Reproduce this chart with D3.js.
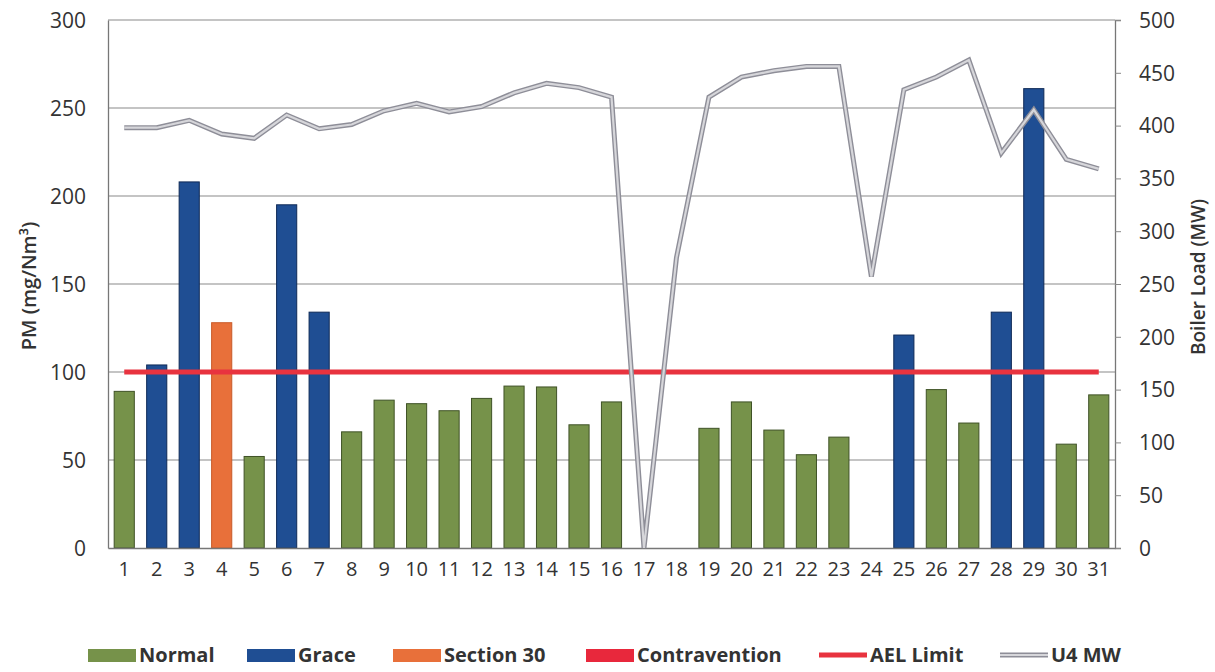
<!DOCTYPE html>
<html>
<head>
<meta charset="utf-8">
<script src="https://cdnjs.cloudflare.com/ajax/libs/d3/7.8.5/d3.min.js"></script>
<style>
  html, body { margin: 0; padding: 0; background: #fff; }
  svg text { font-family: "Open Sans", "DejaVu Sans", sans-serif; fill: #333; }
</style>
</head>
<body>
<svg id="chart" width="1215" height="672"></svg>
<script>
// ---- data ----
const days = d3.range(1, 32).map(String);
const pm = [89, 104, 208, 128, 52, 195, 134, 66, 84, 82, 78, 85, 92, 91.5, 70, 83,
            null, null, 68, 83, 67, 53, 63, null, 121, 90, 71, 134, 261, 59, 87];
const status = ["Normal","Grace","Grace","Section 30","Normal","Grace","Grace","Normal","Normal","Normal",
                "Normal","Normal","Normal","Normal","Normal","Normal","Normal","Normal","Normal","Normal",
                "Normal","Normal","Normal","Normal","Grace","Normal","Normal","Grace","Grace","Normal","Normal"];
const u4mw = [398, 398, 405, 392, 388, 410, 397, 401, 414, 421, 413, 418, 431, 440, 436, 427,
              0, 275, 427, 446, 452, 456, 456, 257, 434, 446, 462, 374, 415, 368, 359];
const aelLimit = 100;
const leftTicks = [0, 50, 100, 150, 200, 250, 300];
const rightTicks = [0, 50, 100, 150, 200, 250, 300, 350, 400, 450, 500];
const legendItems = ["Normal", "Grace", "Section 30", "Contravention", "AEL Limit", "U4 MW"];

// ---- styles ----
const colors = {
  "Normal": "#76924a",
  "Grace": "#1f4e93",
  "Section 30": "#e8703a",
  "Contravention": "#e8283c",
  "AEL Limit": "#e8333f",
  "U4 MW": "#b9b9bf"
};
const strokes = {
  "Normal": "#3f5226",
  "Grace": "#0f2a57",
  "Section 30": "#c85a28",
  "Contravention": "#c01e2e"
};

const svg = d3.select("#chart");
const L = 108, R = 1115, T = 20, B = 548;

const x = d3.scaleBand().domain(days).range([L, R]).paddingInner(0.38).paddingOuter(0.19);
const yL = d3.scaleLinear().domain([0, 300]).range([B, T]);
const yR = d3.scaleLinear().domain([0, 500]).range([B, T]);

// gridlines
svg.append("g").selectAll("line").data(leftTicks.filter(d => d > 0)).join("line")
  .attr("x1", L).attr("x2", R)
  .attr("y1", d => yL(d)).attr("y2", d => yL(d))
  .attr("stroke", "#8a8a8a").attr("stroke-width", 1.2);

// left axis
const gL = svg.append("g").attr("transform", `translate(${L},0)`)
  .call(d3.axisLeft(yL).tickValues(leftTicks).tickSize(0).tickPadding(22));
gL.select(".domain").attr("stroke", "#777").attr("stroke-width", 1.3);
gL.selectAll("text").style("font-size", "21px").attr("fill", "#333").attr("dy", "0.35em");

// right axis
const gR = svg.append("g").attr("transform", `translate(${R},0)`)
  .call(d3.axisRight(yR).tickValues(rightTicks).tickSize(6).tickPadding(18));
gR.select(".domain").attr("stroke", "#777").attr("stroke-width", 1.3);
gR.selectAll(".tick line").attr("stroke", "#888");
gR.selectAll("text").style("font-size", "21px").attr("fill", "#333").attr("dy", "0.35em");

// bars
svg.append("g").selectAll("rect")
  .data(days.map((d, i) => ({ day: d, v: pm[i], s: status[i] })).filter(d => d.v != null))
  .join("rect")
  .attr("x", d => x(d.day))
  .attr("width", x.bandwidth())
  .attr("y", d => yL(d.v))
  .attr("height", d => yL(0) - yL(d.v))
  .attr("fill", d => colors[d.s])
  .attr("stroke", d => strokes[d.s])
  .attr("stroke-width", 1);

// bottom axis
const gB = svg.append("g").attr("transform", `translate(0,${B})`)
  .call(d3.axisBottom(x).tickSize(0).tickPadding(14));
gB.select(".domain").attr("stroke", "#777").attr("stroke-width", 1.3);
gB.selectAll("text").style("font-size", "20px").attr("fill", "#333");

// AEL limit line
svg.append("line")
  .attr("x1", x(days[0]) + x.bandwidth() / 2)
  .attr("x2", x(days[days.length - 1]) + x.bandwidth() / 2)
  .attr("y1", yL(aelLimit)).attr("y2", yL(aelLimit))
  .attr("stroke", colors["AEL Limit"]).attr("stroke-width", 5);

// U4 MW line (double-stroke grey)
const line = d3.line()
  .x((d, i) => x(days[i]) + x.bandwidth() / 2)
  .y(d => yR(d));
svg.append("path").datum(u4mw).attr("d", line)
  .attr("fill", "none").attr("stroke", "#8e8e98").attr("stroke-width", 5).attr("stroke-linejoin", "miter");
svg.append("path").datum(u4mw).attr("d", line)
  .attr("fill", "none").attr("stroke", "#d6d6da").attr("stroke-width", 2.2).attr("stroke-linejoin", "miter");

// axis titles
svg.append("text")
  .attr("transform", `translate(36,286) rotate(-90)`)
  .attr("text-anchor", "middle")
  .style("font-size", "20px").style("font-weight", 600)
  .text("PM (mg/Nm³)");
svg.append("text")
  .attr("transform", `translate(1205,277) rotate(-90)`)
  .attr("text-anchor", "middle")
  .style("font-size", "19px").style("font-weight", 600)
  .text("Boiler Load (MW)");

// legend
const legendX = [88, 247, 393, 586, 819, 1000];
const lg = svg.append("g");
legendItems.forEach((name, i) => {
  const g = lg.append("g").attr("transform", `translate(${legendX[i]},655)`);
  if (name === "AEL Limit") {
    g.append("line").attr("x1", 0).attr("x2", 48).attr("y1", 0).attr("y2", 0)
      .attr("stroke", colors[name]).attr("stroke-width", 5);
  } else if (name === "U4 MW") {
    g.append("line").attr("x1", 0).attr("x2", 48).attr("y1", 0).attr("y2", 0)
      .attr("stroke", "#8e8e98").attr("stroke-width", 5);
    g.append("line").attr("x1", 0).attr("x2", 48).attr("y1", 0).attr("y2", 0)
      .attr("stroke", "#d6d6da").attr("stroke-width", 2.2);
  } else {
    g.append("rect").attr("x", 0).attr("y", -6).attr("width", 48).attr("height", 13)
      .attr("fill", colors[name]);
  }
  g.append("text").attr("x", 51).attr("y", 0).attr("dy", "0.35em")
    .style("font-size", "20px").style("font-weight", 700)
    .style("font-family", "'Liberation Sans Narrow', 'Open Sans', sans-serif")
    .text(name);
});
</script>
</body>
</html>
